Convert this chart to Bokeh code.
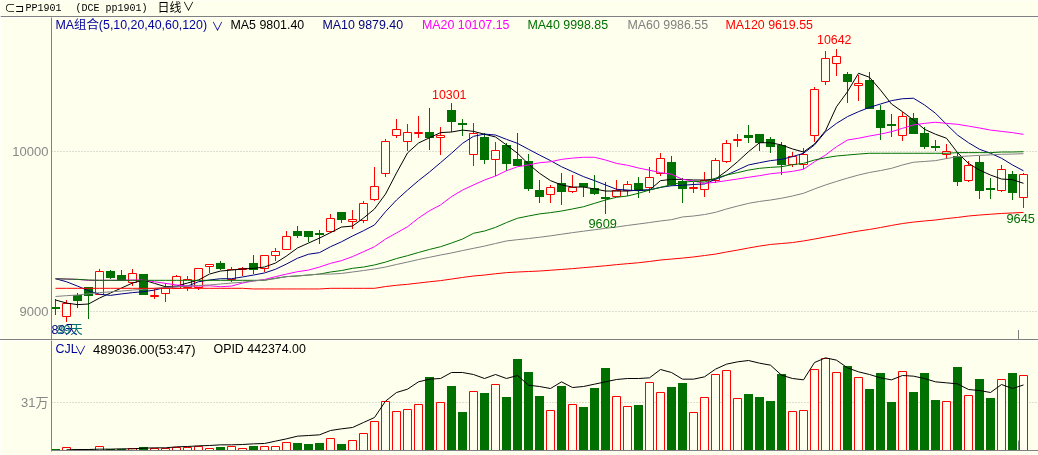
from math import floor
from bokeh.plotting import figure
from bokeh.layouts import column
from bokeh.models import Range1d, FixedTicker, Label, Div
from bokeh.embed import file_html
from bokeh.resources import INLINE

OPEN = [9026,8968,9105,9151,9105,9251,9226,9180,9234,9093,9114,9147,9151,9151,9284,9301,9201,9263,9301,9268,9351,9389,9503,9501,9491,9499,9620,9564,9570,9699,
        9864,10101,10064,10111,10122,10086,10260,10176,9983,10091,9949,10041,9953,9941,9759,9733,9801,9751,9803,9772,9714,9720,9758,9801,9776,9864,9934,9816,9768,9764,
        9820,9936,10070,10101,10109,10078,10041,9916,9920,10101,10439,10551,10484,10414,10447,10260,10172,10099,10209,10116,10033,9983,9972,9818,9934,9772,9759,9859,9714]
CLOSE = [9014,9051,9068,9097,9251,9209,9197,9239,9105,9101,9145,9220,9201,9270,9294,9268,9264,9272,9259,9351,9376,9470,9474,9464,9478,9583,9572,9576,9676,9783,
         10064,10139,10120,10118,10086,10101,10184,10168,10114,9947,10008,9922,9909,9766,9716,9778,9747,9776,9778,9734,9701,9758,9795,9753,9839,9958,9791,9766,9778,9820,
         9945,10051,10078,10086,10053,10028,9916,9972,9983,10389,10583,10595,10434,10426,10266,10147,10159,10220,10109,10028,10022,9999,9809,9914,9753,9759,9889,9741,9858]
HIGH = [9076,9072,9116,9151,9264,9259,9259,9264,9234,9141,9178,9228,9222,9270,9297,9314,9276,9276,9351,9351,9397,9501,9534,9503,9509,9608,9620,9634,9691,9903,
        10076,10203,10172,10222,10272,10151,10301,10203,10178,10114,10059,10055,10114,9984,9822,9791,9866,9853,9803,9853,9809,9822,9816,9841,9903,9991,9972,9834,9809,9870,
        9958,10070,10109,10166,10109,10091,10059,9997,10022,10401,10626,10642,10495,10476,10495,10291,10234,10247,10241,10153,10072,10047,9997,9941,9972,9834,9914,9878,9864]
LOW = [8978,8936,9024,8955,9105,9201,9189,9159,9105,9078,9061,9139,9130,9134,9243,9259,9186,9222,9234,9247,9316,9389,9461,9434,9422,9489,9555,9518,9555,9691,
       9843,10086,10001,10084,10010,9978,10120,10099,9909,9922,9847,9878,9909,9753,9680,9678,9666,9741,9716,9728,9609,9716,9720,9709,9741,9847,9784,9678,9741,9718,
       9801,9926,10028,10053,10003,9991,9853,9903,9891,10059,10418,10472,10303,10316,10264,10072,10091,10066,10109,10016,10003,9953,9784,9808,9703,9703,9747,9697,9645]

MA5 = [9072,9053,9043,9047,9084,9116,9147,9178,9197,9176,9155,9159,9178,9197,9234,9253,9259,9266,9270,9278,9303,9347,9397,9428,9459,9493,9528,9534,9584,9641,
       9734,9866,9991,10053,10086,10118,10122,10134,10126,10108,10091,10041,9989,9922,9864,9818,9791,9778,9778,9766,9753,9753,9753,9759,9759,9818,9826,9826,9822,9822,
       9828,9878,9936,9999,10055,10055,10041,10016,9997,10047,10130,10280,10374,10489,10464,10384,10297,10249,10197,10139,10108,10083,9993,9926,9884,9853,9828,9824,9801.40]
MA10 = [9205,9186,9159,9130,9108,9101,9110,9118,9124,9134,9151,9155,9159,9186,9197,9205,9205,9216,9228,9241,9264,9297,9333,9358,9368,9405,9436,9472,9505,9541,
        9624,9697,9759,9818,9872,9930,9989,10051,10095,10109,10103,10076,10051,10014,9978,9943,9905,9874,9843,9818,9791,9764,9759,9755,9761,9776,9786,9789,9794,9797,
        9826,9853,9884,9916,9930,9943,9951,9968,9989,10041,10124,10176,10218,10249,10276,10297,10318,10330,10333,10291,10239,10170,10103,10055,10014,9989,9958,9916,9879.40]
MA20 = [9205,9203,9201,9195,9195,9195,9195,9197,9197,9186,9176,9166,9159,9159,9161,9155,9159,9178,9191,9200,9218,9234,9249,9259,9278,9301,9318,9343,9374,9405,
        9453,9491,9530,9584,9630,9666,9718,9759,9791,9822,9847,9880,9905,9916,9930,9936,9951,9959,9964,9964,9947,9926,9914,9897,9883,9868,9858,9826,9816,9801,
        9808,9818,9828,9839,9849,9861,9868,9876,9889,9936,9978,10030,10072,10083,10097,10109,10124,10145,10166,10176,10183,10176,10170,10159,10147,10134,10126,10118,10107.15]
MA40 = [9205,9203,9201,9197,9195,9195,9195,9195,9195,9195,9195,9195,9195,9195,9195,9195,9195,9195,9195,9195,9208,9218,9222,9228,9234,9247,9256,9270,9278,9291,
        9309,9331,9349,9369,9388,9405,9428,9453,9489,9503,9526,9556,9583,9597,9610,9618,9628,9641,9655,9676,9697,9714,9722,9739,9759,9776,9793,9808,9814,9809,
        9833,9853,9868,9884,9895,9901,9905,9918,9926,9947,9961,9972,9978,9984,9989,9989,9989,9989,9989,9989,9989,9989,9993,9993,9993,9993,9997,9997,9998.85]
MA60 = [9094,9099,9103,9111,9118,9123,9128,9134,9139,9145,9151,9155,9159,9163,9166,9172,9178,9183,9191,9197,9206,9218,9223,9228,9234,9234,9238,9247,9256,9266,
        9278,9294,9309,9325,9339,9353,9366,9381,9395,9409,9425,9441,9449,9456,9464,9473,9483,9493,9502,9511,9520,9528,9538,9547,9556,9566,9574,9591,9597,9606,
        9620,9641,9659,9676,9688,9697,9708,9722,9739,9766,9791,9813,9834,9853,9869,9881,9895,9916,9933,9938,9943,9956,9968,9972,9976,9979,9983,9984,9986.55]
MA120 = [9145,9145,9145,9145,9145,9145,9145,9145,9145,9145,9145,9145,9145,9145,9145,9145,9145,9145,9141,9141,9141,9141,9141,9141,9141,9145,9145,9145,9145,9145,
         9156,9164,9170,9178,9186,9193,9203,9213,9222,9228,9236,9243,9247,9250,9253,9258,9263,9268,9274,9280,9286,9293,9299,9305,9313,9322,9328,9334,9341,9350,
         9359,9372,9384,9397,9409,9419,9425,9431,9441,9453,9466,9478,9491,9503,9513,9525,9538,9550,9559,9566,9572,9581,9588,9597,9603,9608,9613,9616,9619.55]

VOLUME = [13000,19500,13000,13000,26000,13000,13000,11000,26000,13000,15000,22000,22000,28000,13000,22000,26000,13000,28000,26000,26000,52000,48000,41000,48000,78000,41000,65000,111000,189000,
          319000,254000,267000,299000,477000,312000,419000,250000,384000,373000,430000,347000,595000,510000,354000,260000,419000,299000,282000,406000,536000,352000,286000,295000,443000,378000,412000,438000,247000,345000,
          495000,521000,339000,367000,347000,321000,497000,254000,260000,527000,599000,508000,549000,475000,399000,503000,315000,514000,380000,503000,328000,319000,543000,358000,464000,341000,462000,503000,489036]
OPID = [4500,6750,6750,9000,9000,11250,11250,15750,18000,18000,24750,27000,31500,33750,38250,38250,40500,45000,47250,63000,78750,96750,101250,105750,135000,146250,155250,
        189000,222750,333000,391500,414000,463500,481500,486000,526500,526500,513000,486000,513000,486000,506250,441000,432000,418500,463500,425250,432000,447750,463500,479250,486000,486000,490500,546750,526500,481500,481500,
        497250,549000,582750,598500,607500,589500,576000,508500,486000,477000,594000,625500,609750,558000,531000,513000,490500,477000,506250,501750,486000,463500,456750,450000,411750,405000,391500,445500,418500,442374]

PRICE_TICKS = [9000, 10000]
VOL_TICKS = [310000]
VOL_TICK_LABELS = {310000: "31万"}
MA_STYLE = [(MA5, "#000000"), (MA10, "#000080"), (MA20, "#FF00FF"), (MA40, "#007000"), (MA60, "#808080"), (MA120, "#FF0000")]

BG = "#FFFFEE"
AX = "#808080"
GREEN = "#007000"
RED = "#FF0000"
SANS = "Liberation Sans, Noto Sans CJK SC"

N = len(OPEN)
assert all(len(a) == N for a in (CLOSE, HIGH, LOW, MA5, MA10, MA20, MA40, MA60, MA120, VOLUME))
xs = list(range(N))
up = [c > o for o, c in zip(OPEN, CLOSE)]
xs_up = [i for i in xs if up[i]]
xs_dn = [i for i in xs if not up[i]]

PX = 11.0
x0 = -4 / PX
x1 = x0 + 987 / PX
xr = Range1d(x0, x1)
VK = 6510


def price_at(y):
    return 10947 - 6.25 * y


def px_of(v):
    return (10947 - v) / 6.25


def edge(v):          # nearest whole pixel edge for filled bodies and wick ends
    return price_at(round(px_of(v)))


def mid(v):           # pixel centre, for 1px outlines
    return price_at(floor(px_of(v)) + 0.5)


def base(p):
    p.background_fill_color = BG
    p.border_fill_color = BG
    p.outline_line_color = None
    p.xaxis.visible = False
    p.xgrid.visible = False
    p.ygrid.grid_line_color = "#BBBBBB"
    p.ygrid.grid_line_dash = "1 2"
    p.ygrid.grid_line_width = 1
    ax = p.yaxis[0]
    ax.axis_line_color = AX
    ax.axis_line_width = 1
    ax.major_tick_line_color = None
    ax.minor_tick_line_color = None
    ax.major_tick_out = 0
    ax.major_tick_in = 0
    ax.major_label_standoff = 3
    ax.major_label_text_color = "#888888"
    ax.major_label_text_font = SANS
    ax.major_label_text_font_size = "13px"


def lab(p, sx, y_val, text, color, size="12.4px", font=SANS):
    p.add_layout(Label(x=(sx - 55) / PX, y=y_val, text=text, text_color=color, text_font_size=size,
                       text_font=font, text_baseline="middle"))


# header strip ---------------------------------------------------------------
head = figure(width=1038, height=17, x_range=Range1d(0, 1038), y_range=Range1d(17, 0),
              output_backend="svg", toolbar_location=None, min_border=0, frame_align=False)
head.background_fill_color = BG
head.border_fill_color = BG
head.outline_line_color = None
head.axis.visible = False
head.grid.visible = False
head.segment([0], [16], [1038], [16], line_color=AX, line_width=1)


def hlab(sx, sy, text, color="#000000", size="12px", font=SANS):
    head.add_layout(Label(x=sx, y=sy, text=text, text_color=color, text_font_size=size,
                          text_font=font, text_baseline="middle"))


hlab(4, 7.5, "⊂⊐", size="11px")
hlab(25, 7.5, "PP1901", size="10px", font="Liberation Mono")
hlab(75, 7.5, "(DCE pp1901)", size="10px", font="Liberation Mono")
hlab(157, 7.5, "日线", size="12px")
hlab(182, 6.5, "∨", size="12px")

# price panel ----------------------------------------------------------------
main = figure(width=1038, height=322, x_range=xr, y_range=Range1d(price_at(339.5), price_at(17.5)),
              output_backend="svg", toolbar_location=None, min_border_left=51, min_border_right=0,
              min_border_top=0, min_border_bottom=0)
base(main)
main.yaxis[0].ticker = FixedTicker(ticks=PRICE_TICKS)
main.ygrid[0].ticker = FixedTicker(ticks=PRICE_TICKS)

main.segment(xs_dn, [edge(HIGH[i]) for i in xs_dn], xs_dn, [edge(LOW[i]) for i in xs_dn],
             line_color=GREEN, line_width=1)
main.segment(xs_up, [edge(HIGH[i]) for i in xs_up], xs_up, [edge(LOW[i]) for i in xs_up],
             line_color=RED, line_width=1)
main.vbar(xs_dn, width=9 / PX, top=[edge(OPEN[i]) for i in xs_dn], bottom=[edge(CLOSE[i]) for i in xs_dn],
          fill_color=GREEN, line_color=None)
main.vbar(xs_up, width=8 / PX, top=[mid(CLOSE[i]) for i in xs_up], bottom=[mid(OPEN[i]) for i in xs_up],
          fill_color=BG, line_color=RED, line_width=1)
for series, colour in MA_STYLE:
    main.line(xs, series, line_color=colour, line_width=1)

main.segment([87.545], [price_at(330)], [87.545], [price_at(340)], line_color=AX, line_width=1)

lab(main, 55, price_at(25), "MA组合(5,10,20,40,60,120)", "#0000A0")
lab(main, 211, price_at(27), "∨", "#0000A0", "12px")
lab(main, 230, price_at(25), "MA5 9801.40", "#000000")
lab(main, 322, price_at(25), "MA10 9879.40", "#000080")
lab(main, 421.5, price_at(25), "MA20 10107.15", "#FF00FF")
lab(main, 527, price_at(25), "MA40 9998.85", "#007000")
lab(main, 627, price_at(25), "MA60 9986.55", "#808080")
lab(main, 725, price_at(25), "MA120 9619.55", "#FF0000")

lab(main, 816.5, price_at(39.5), "10642", RED)
lab(main, 431.5, price_at(94.5), "10301", RED)
lab(main, 588, price_at(223.5), "9609", GREEN, "12.8px")
lab(main, 1006, price_at(218), "9645", GREEN, "12.8px")

lab(main, 51, price_at(330), "89天", "#000080")
lab(main, 56, price_at(330), "89天", "#007070")

# separator ------------------------------------------------------------------
sep = Div(width=1038, height=1, text="", styles={"background": AX}, margin=(0, 0, 0, 0))

# volume panel ---------------------------------------------------------------
vol = figure(width=1038, height=115, x_range=xr, y_range=Range1d(-1 * VK, 110 * VK),
             output_backend="svg", toolbar_location=None, min_border_left=51, min_border_right=0,
             min_border_top=0, min_border_bottom=4)
base(vol)
vol.yaxis[0].ticker = FixedTicker(ticks=VOL_TICKS)
vol.ygrid[0].ticker = FixedTicker(ticks=VOL_TICKS)
vol.yaxis[0].major_label_overrides = VOL_TICK_LABELS
OK = 6750 / VK
vol.extra_y_ranges = {"opid": Range1d(-1 * VK * OK, 110 * VK * OK)}

vol.vbar(xs_dn, width=9 / PX, top=[(round(VOLUME[i] / VK - 0.5) + 0.5) * VK for i in xs_dn], bottom=0,
         fill_color=GREEN, line_color=None)
vol.vbar(xs_up, width=8 / PX, top=[round(VOLUME[i] / VK) * VK for i in xs_up], bottom=0,
         fill_color=BG, line_color=RED, line_width=1)
vol.line(xs[1:], OPID, line_color="#000000", line_width=1, y_range_name="opid")
vol.segment([87.545], [0], [87.545], [10 * VK], line_color=AX, line_width=1)
vol.segment([x0], [0], [x1], [0], line_color=AX, line_width=1)

lab(vol, 55, 101.5 * VK, "CJL", "#0000A0")
lab(vol, 74, 100 * VK, "∨", "#0000A0", "12px")
lab(vol, 92.5, 101.5 * VK, "489036.00(53:47)", "#000000", "13px")
lab(vol, 213, 101.5 * VK, "OPID 442374.00", "#000000")

layout = column(head, main, sep, vol, spacing=0, styles={"position": "fixed", "left": "0", "top": "0"})
open("out.html", "w").write(file_html(layout, INLINE))
